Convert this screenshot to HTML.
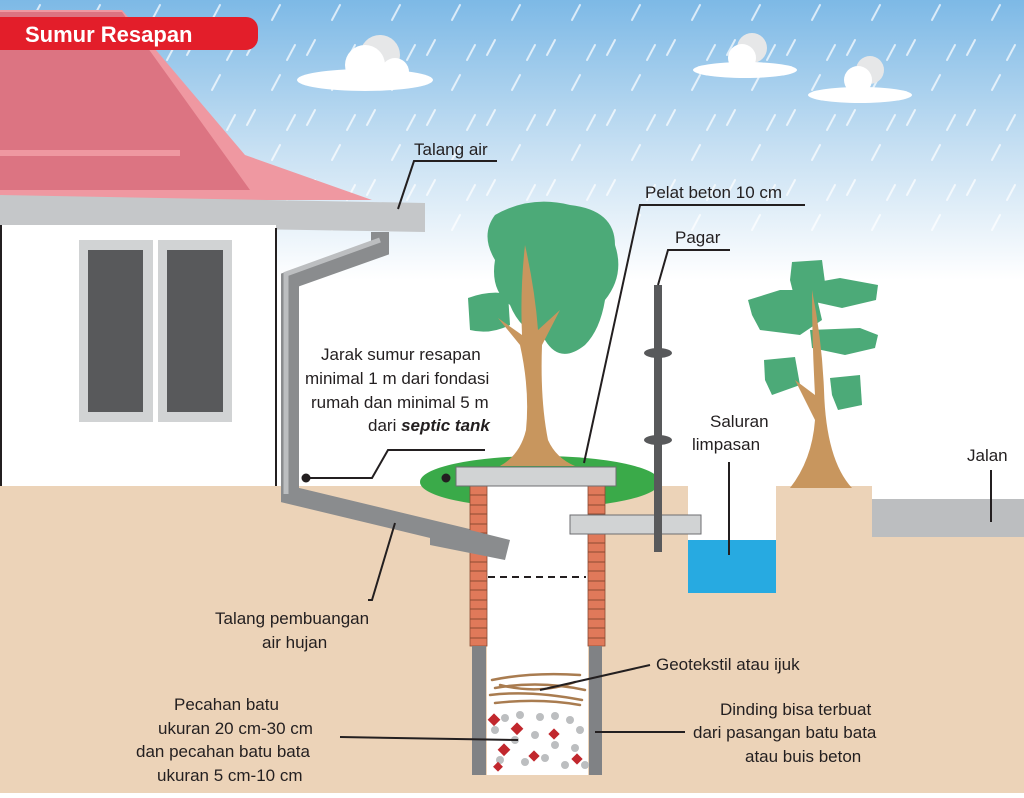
<!DOCTYPE html>
<html><head><meta charset="utf-8"><style>
html,body{margin:0;padding:0;}
body{width:1024px;height:793px;overflow:hidden;}
svg text{font-family:"Liberation Sans",sans-serif;fill:#231f20;}
</style></head><body>
<svg width="1024" height="793" viewBox="0 0 1024 793" xmlns="http://www.w3.org/2000/svg">
<defs>
<linearGradient id="sky" x1="0" y1="0" x2="0" y2="1">
<stop offset="0" stop-color="#7db9e6"/><stop offset="0.55" stop-color="#c9e1f3"/><stop offset="1" stop-color="#ffffff"/>
</linearGradient>
<pattern id="rain" width="60" height="70" patternUnits="userSpaceOnUse">
<path d="M40 5 L32 20 M15 40 L7 55 M55 45 L47 60" stroke="#ffffff" stroke-width="2" stroke-linecap="round" opacity="0.7"/>
</pattern>
</defs>
<rect width="1024" height="793" fill="#fff"/>
<rect width="1024" height="280" fill="url(#sky)"/>
<rect width="1024" height="240" fill="url(#rain)"/>
<!-- clouds -->
<g fill="#fff">
<circle cx="380" cy="55" r="20" fill="#e6e7e8"/><circle cx="365" cy="65" r="20"/><ellipse cx="365" cy="80" rx="68" ry="11"/><circle cx="395" cy="72" r="14"/>
<circle cx="752" cy="48" r="15" fill="#e6e7e8"/><circle cx="742" cy="58" r="14"/><ellipse cx="745" cy="70" rx="52" ry="8"/>
<circle cx="870" cy="70" r="14" fill="#e6e7e8"/><circle cx="858" cy="80" r="14"/><ellipse cx="860" cy="95" rx="52" ry="8"/>
</g>
<!-- roof -->
<polygon points="0,10 122,10 245,155 372,200 0,200" fill="#ef98a1"/>
<polygon points="0,12 122,12 250,190 0,190" fill="#dc7482"/>
<rect x="0" y="150" width="180" height="6" fill="#ef98a1"/>
<polygon points="0,195 425,203 425,232 0,225" fill="#c5c7c9"/>
<!-- house -->
<rect x="0" y="225" width="276" height="262" fill="#fff"/>
<line x1="276" y1="228" x2="276" y2="487" stroke="#231f20" stroke-width="2"/>
<line x1="1" y1="225" x2="1" y2="487" stroke="#231f20" stroke-width="2"/>
<rect x="79" y="240" width="74" height="182" fill="#d1d3d4"/><rect x="88" y="250" width="55" height="162" fill="#58595b"/>
<rect x="158" y="240" width="74" height="182" fill="#d1d3d4"/><rect x="167" y="250" width="56" height="162" fill="#58595b"/>
<!-- ground -->
<rect x="0" y="486" width="1024" height="307" fill="#ecd3b8"/>
<rect x="688" y="486" width="88" height="56" fill="#fff"/>
<rect x="688" y="540" width="88" height="53" fill="#27aae1"/>
<rect x="872" y="486" width="152" height="14" fill="#fff"/>
<rect x="872" y="499" width="152" height="38" fill="#bcbec0"/>
<!-- downspout -->
<polyline points="380,232 380,248 290,280 290,495 510,548" fill="none" stroke="#8a8c8e" stroke-width="18" stroke-linejoin="miter"/>
<polyline points="380,240 286,274 286,494" fill="none" stroke="#bcbec0" stroke-width="5"/>
<!-- tree 1 -->
<g fill="#4caa78">
<path d="M495 215 Q530 195 570 205 Q615 210 615 245 Q625 275 605 300 Q600 330 585 345 Q560 365 545 340 Q520 330 510 305 Q490 290 495 260 Q480 235 495 215Z"/>
<path d="M468 298 Q490 290 508 294 L510 325 Q490 335 470 330Z"/>
</g>
<ellipse cx="540" cy="482" rx="120" ry="26" fill="#3aaa49"/>
<path d="M525 245 Q535 290 538 330 L560 310 L542 345 Q540 400 548 440 Q556 458 575 466 L500 466 Q520 455 526 430 Q530 390 520 345 L498 318 L522 335 Q520 290 525 245Z" fill="#c8965e"/>
<!-- tree 2 -->
<g fill="#4caa78">
<path d="M792 262 L822 260 L826 290 L795 300 L790 280Z"/>
<path d="M812 283 L840 278 L878 285 L876 300 L842 308 L815 302Z"/>
<path d="M748 300 L780 290 L815 290 L822 320 L800 335 L760 330 L752 315Z"/>
<path d="M810 330 L860 328 L878 335 L875 348 L845 355 L812 348Z"/>
<path d="M764 360 L795 357 L800 385 L772 395 L765 380Z"/>
<path d="M830 378 L860 375 L862 405 L838 410 L832 395Z"/>
</g>
<path d="M812 290 Q822 340 824 390 Q826 460 852 488 L790 488 Q812 460 815 420 L795 380 L815 395 Q812 340 812 290Z" fill="#c8965e"/>
<!-- well -->
<rect x="487" y="486" width="101" height="289" fill="#fff"/>
<g fill="#e0795a" stroke="#8b4a33" stroke-width="0.8">
<rect x="470" y="486" width="17" height="160"/><rect x="588" y="486" width="17" height="160"/>
</g>
<g stroke="#8b4a33" stroke-width="1">
<path d="M470 495h17M470 505h17M470 514h17M470 524h17M470 533h17M470 543h17M470 552h17M470 562h17M470 571h17M470 581h17M470 590h17M470 600h17M470 609h17M470 619h17M470 628h17M470 638h17"/>
<path d="M588 495h17M588 505h17M588 514h17M588 524h17M588 533h17M588 543h17M588 552h17M588 562h17M588 571h17M588 581h17M588 590h17M588 600h17M588 609h17M588 619h17M588 628h17M588 638h17"/>
</g>
<rect x="472" y="646" width="14" height="129" fill="#808285"/><rect x="589" y="646" width="13" height="129" fill="#808285"/>
<line x1="488" y1="577" x2="586" y2="577" stroke="#231f20" stroke-width="2" stroke-dasharray="7,5"/>
<rect x="456" y="467" width="160" height="19" fill="#d1d3d4" stroke="#6d6e71"/>
<polygon points="430,520 510,540 505,560 430,545" fill="#8a8c8e"/>
<!-- fibers -->
<g stroke="#a97c50" stroke-width="2.5" stroke-linecap="round" fill="none">
<path d="M492 680 Q530 672 580 675"/><path d="M495 688 Q540 680 585 690"/><path d="M490 695 Q530 690 582 700"/><path d="M495 703 Q540 698 580 705"/><path d="M500 685 Q540 695 575 682"/>
</g>
<g fill="#bcbec0">
<circle cx="505" cy="718" r="4"/><circle cx="520" cy="715" r="4"/><circle cx="540" cy="717" r="4"/><circle cx="555" cy="716" r="4"/><circle cx="570" cy="720" r="4"/><circle cx="580" cy="730" r="4"/>
<circle cx="495" cy="730" r="4"/><circle cx="515" cy="740" r="4"/><circle cx="535" cy="735" r="4"/><circle cx="555" cy="745" r="4"/><circle cx="575" cy="748" r="4"/>
<circle cx="500" cy="760" r="4"/><circle cx="525" cy="762" r="4"/><circle cx="545" cy="758" r="4"/><circle cx="565" cy="765" r="4"/><circle cx="585" cy="765" r="4"/>
</g>
<g fill="#c1272d">
<rect x="490" y="715" width="9" height="9" transform="rotate(45 494 719)"/><rect x="513" y="724" width="9" height="9" transform="rotate(45 517 728)"/><rect x="550" y="730" width="8" height="8" transform="rotate(45 554 734)"/><rect x="500" y="745" width="9" height="9" transform="rotate(45 504 749)"/><rect x="530" y="752" width="8" height="8" transform="rotate(45 534 756)"/><rect x="573" y="755" width="8" height="8" transform="rotate(45 577 759)"/><rect x="495" y="763" width="7" height="7" transform="rotate(45 498 766)"/>
</g>
<!-- slab and fence -->
<rect x="570" y="515" width="131" height="19" fill="#d1d3d4" stroke="#6d6e71"/>
<rect x="654" y="285" width="8" height="267" fill="#58595b"/>
<ellipse cx="658" cy="353" rx="14" ry="5" fill="#58595b"/><ellipse cx="658" cy="440" rx="14" ry="5" fill="#58595b"/>
<!-- title -->
<rect x="-20" y="17" width="278" height="33" rx="12" fill="#e31e2a"/>
<text x="25" y="42" font-size="22" font-weight="bold" style="fill:#fff">Sumur Resapan</text>
<!-- leaders -->
<g stroke="#231f20" stroke-width="2" fill="none">
<polyline points="398,209 414,161 497,161"/>
<polyline points="584,463 640,205 805,205"/>
<polyline points="658,285 668,250 730,250"/>
<polyline points="306,478 372,478 388,450 485,450"/>
<polyline points="395,523 372,600 368,600"/>
<line x1="729" y1="462" x2="729" y2="555"/>
<line x1="991" y1="470" x2="991" y2="522"/>
<line x1="540" y1="690" x2="650" y2="665"/>
<line x1="340" y1="737" x2="518" y2="740"/>
<line x1="595" y1="732" x2="685" y2="732"/>
</g>
<circle cx="306" cy="478" r="4.5" fill="#231f20"/><circle cx="446" cy="478" r="4.5" fill="#231f20"/>
<g font-size="17">
<text x="414" y="155">Talang air</text>
<text x="645" y="198">Pelat beton  10 cm</text>
<text x="675" y="243">Pagar</text>
<text x="710" y="427">Saluran</text>
<text x="692" y="450">limpasan</text>
<text x="967" y="461">Jalan</text>
<text x="321" y="360">Jarak sumur resapan</text>
<text x="305" y="384">minimal 1 m dari fondasi</text>
<text x="311" y="408">rumah dan minimal 5 m</text>
<text x="368" y="431">dari <tspan font-weight="bold" font-style="italic">septic tank</tspan></text>
<text x="215" y="624">Talang pembuangan</text>
<text x="262" y="648">air hujan</text>
<text x="656" y="670">Geotekstil atau ijuk</text>
<text x="720" y="715">Dinding bisa terbuat</text>
<text x="693" y="738">dari pasangan batu bata</text>
<text x="745" y="762">atau buis beton</text>
<text x="174" y="710">Pecahan batu</text>
<text x="158" y="734">ukuran 20 cm-30 cm</text>
<text x="136" y="757">dan pecahan batu bata</text>
<text x="157" y="781">ukuran 5 cm-10 cm</text>
</g>
</svg>
</body></html>
